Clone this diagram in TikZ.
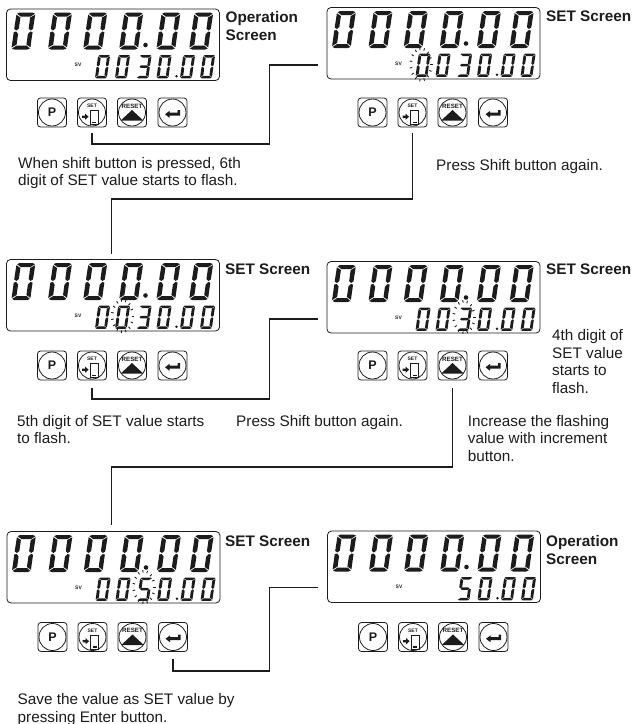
\documentclass[tikz,border=0pt]{standalone}
\usepackage{fontspec}
\setmainfont{Liberation Sans}
\definecolor{ink}{HTML}{1C1C1C}
\tikzset{
  x=1pt,y=-1pt,
  panelbox/.style={draw=ink,line width=0.8pt,rounded corners=4pt,minimum width=213pt,minimum height=71.5pt,anchor=north west,inner sep=0pt,outer sep=0pt},
  btnbox/.style={draw=ink,line width=0.8pt,rounded corners=3pt,minimum width=29pt,minimum height=29pt,inner sep=0pt,outer sep=0pt},
  conn/.style={draw=ink,line width=1.3pt},
  body/.style={font=\fontsize{15.3}{17.6}\selectfont,text=ink,inner sep=0pt,anchor=north west,align=left},
  head/.style={font=\fontsize{15.3}{17.8}\selectfont\bfseries,text=ink,inner sep=0pt,anchor=north west,align=left},
  tiny/.style={font=\fontsize{5}{5}\selectfont\bfseries,text=ink,inner sep=0pt},
}
% segments of a digit, 19 wide and 37 high
\def\sega{(3,0)--(16,0)--(18.6,1.2)--(14.6,4)--(4.8,4)--(0.8,1.2)--cycle}
\def\segb{(19,2.2)--(18.8,16.4)--(16.6,18)--(14.4,16)--(14.4,5)--cycle}
\def\segc{(18.8,19.6)--(18.8,34.8)--(14.4,32)--(14.4,21.6)--(16.6,19)--cycle}
\def\segd{(4.8,33)--(14.6,33)--(18.4,36)--(16,37)--(3,37)--(0.6,36)--cycle}
\def\sege{(0,19.6)--(2.4,19)--(4.6,21.6)--(4.6,32)--(0,35)--cycle}
\def\segf{(0.2,2.2)--(4.6,5)--(4.6,16)--(2.4,18)--(0,16.4)--cycle}
\def\segg{(4.6,16.4)--(14.4,16.4)--(16.6,18.5)--(14.4,20.6)--(4.6,20.6)--(2.4,18.5)--cycle}
\def\Zero{a,b,c,d,e,f}
\def\Three{a,b,c,d,g}
\def\Five{a,c,d,f,g}
\newcommand\lcddigit[4]{%
  \begin{scope}[shift={(#1,#2)},xslant=0.14,scale=#3]
    \edef\seglist{#4}%
    \foreach \g in \seglist {%
      \expandafter\let\expandafter\cursg\csname seg\g\endcsname
      \fill[ink] \cursg;
    }
  \end{scope}}
\newcommand\flashmark[2]{%
  \foreach \a in {0,24,...,336} {%
    \draw[ink,line width=0.9pt] ({#1+9*cos(\a)},{#2+14.5*sin(\a)}) -- ({#1+11.5*cos(\a)},{#2+17*sin(\a)});
  }}
% #1 id, #2 left, #3 top, #4 button top, #5 small digits i/glyph
\newcommand\panel[5]{%
  \node[panelbox] (pan#1) at (#2,#3) {};
  \foreach \i in {10,46.6,81.8,117.8,155,187.8} {
    \lcddigit{#2+\i}{#3+3.5}{1}{\Zero}
  }
  \fill[ink] (#2+139,#3+36) circle (2.3);
  \fill[ink] (#2+170,#3+67.3) circle (1.4);
  \node[tiny] (sv#1) at (#2+71.5,#3+56) {SV};
  \foreach \i/\gl in {#5} {
    \pgfmathsetmacro\sx{{91.7,111.7,133.2,153.2,176.7,196.7}[\i]}
    \lcddigit{#2+\sx}{#3+46}{0.63}{\gl}
  }
  % buttons
  \node[btnbox] (b#1p) at (#2+45.5,#4+14.5) {};
  \draw[ink,line width=0.8pt] (b#1p.center) circle (13.5);
  \node[font=\fontsize{12.5}{12.5}\selectfont\bfseries,text=ink,inner sep=0pt] (lp#1) at (b#1p.center) {P};
  \node[btnbox] (b#1s) at (#2+85.5,#4+14.5) {};
  \draw[ink,line width=0.8pt] (b#1s.center) circle (13.5);
  \node[tiny] (ls#1) at ([yshift=-8pt]b#1s.north) {SET};
  \begin{scope}[shift={(b#1s.center)}]
    \draw[ink,line width=0.8pt] (-2,-2) rectangle (6,12);
    \fill[ink] (0,9.3) rectangle (4,10.8);
    \fill[ink] (-10,3) -- (-7,3) -- (-7,1) -- (-3.4,4.2) -- (-7,7.4) -- (-7,5.4) -- (-10,5.4) -- cycle;
  \end{scope}
  \node[btnbox] (b#1r) at (#2+125.5,#4+14.5) {};
  \draw[ink,line width=0.8pt] (b#1r.center) circle (13.5);
  \begin{scope}[shift={(b#1r.center)}]
    \fill[ink] (0,-2.5) -- (11.5,8.2) -- (-11.5,8.2) -- cycle;
  \end{scope}
  \node[tiny,font=\fontsize{6.2}{6}\selectfont\bfseries] (lr#1) at ([yshift=-8pt]b#1r.north) {RESET};
  \node[btnbox] (b#1e) at (#2+166,#4+14.5) {};
  \draw[ink,line width=0.8pt] (b#1e.center) circle (13.5);
  \begin{scope}[shift={(b#1e.center)}]
    \fill[ink] (-7.5,1.8) -- (-3,-1.6) -- (-3,0) -- (5,0) -- (5,-2.4) -- (7.5,-2.4) -- (7.5,3.2) -- (-3,3.2) -- (-3,5.2) -- cycle;
  \end{scope}
}
\newcommand\txt[5]{\node[#1] (#2) at (#3,#4-12) {\rule{0pt}{12pt}#5};}
\begin{document}
\begin{tikzpicture}
\useasboundingbox (0,0) rectangle (634,724);
\panel{A}{6.5}{9}{98}{0/\Zero,1/\Zero,2/\Three,3/\Zero,4/\Zero,5/\Zero}
\panel{B}{327}{7.5}{98}{0/\Zero,1/\Zero,2/\Three,3/\Zero,4/\Zero,5/\Zero}
\panel{C}{6.5}{259.5}{351}{0/\Zero,1/\Zero,2/\Three,3/\Zero,4/\Zero,5/\Zero}
\panel{D}{327}{261.5}{351}{0/\Zero,1/\Zero,2/\Three,3/\Zero,4/\Zero,5/\Zero}
\panel{E}{7}{531.5}{622.5}{0/\Zero,1/\Zero,2/\Five,3/\Zero,4/\Zero,5/\Zero}
\panel{F}{327.5}{531}{622.5}{2/\Five,3/\Zero,4/\Zero,5/\Zero}
\flashmark{421}{64.5}
\flashmark{122.5}{316}
\flashmark{464}{317}
\flashmark{144}{587}
% labels
\txt{head}{hA}{225.5}{22}{Operation\\Screen}
\txt{head}{hB}{546}{21.5}{SET Screen}
\txt{head}{hC}{225}{274}{SET Screen}
\txt{head}{hD}{546}{274}{SET Screen}
\txt{head}{hE}{225}{546}{SET Screen}
\txt{head}{hF}{546}{546}{Operation\\Screen}
\txt{body}{tA}{18}{168}{When shift button is pressed, 6th\\digit of SET value starts to flash.}
\txt{body}{tB}{436}{170}{Press Shift button again.}
\txt{body}{tC}{17}{426}{5th digit of SET value starts\\to flash.}
\txt{body}{tC2}{236}{426}{Press Shift button again.}
\txt{body}{tD}{552}{340.5}{4th digit of\\SET value\\starts to\\flash.}
\txt{body}{tD2}{467.7}{426}{Increase the flashing\\value with increment\\button.}
\txt{body}{tE}{17.5}{704.5}{Save the value as SET value by\\pressing Enter button.}
% connectors
\coordinate (jA) at (269.5,144);
\coordinate (eA) at (318,65);
\coordinate (jB) at (111.5,199);
\coordinate (jC) at (269.5,399);
\coordinate (eC) at (318,319);
\coordinate (jD) at (111.5,467);
\coordinate (jE) at (269.5,671);
\coordinate (eE) at (318,587.7);
\draw[conn] ([yshift=-6pt]bAs.south) |- (jA) |- (eA);
\draw[conn] ([yshift=-6pt]bBs.south) |- (jB) |- ([yshift=6pt]panC.north -| jB);
\draw[conn] ([yshift=-8pt]bCs.south) |- (jC) |- (eC);
\draw[conn] ([yshift=-8pt]bDr.south) |- (jD) |- ([yshift=6.5pt]panE.north -| jD);
\draw[conn] ([yshift=-7pt]bEe.south) |- (jE) |- (eE);
\end{tikzpicture}
\end{document}
